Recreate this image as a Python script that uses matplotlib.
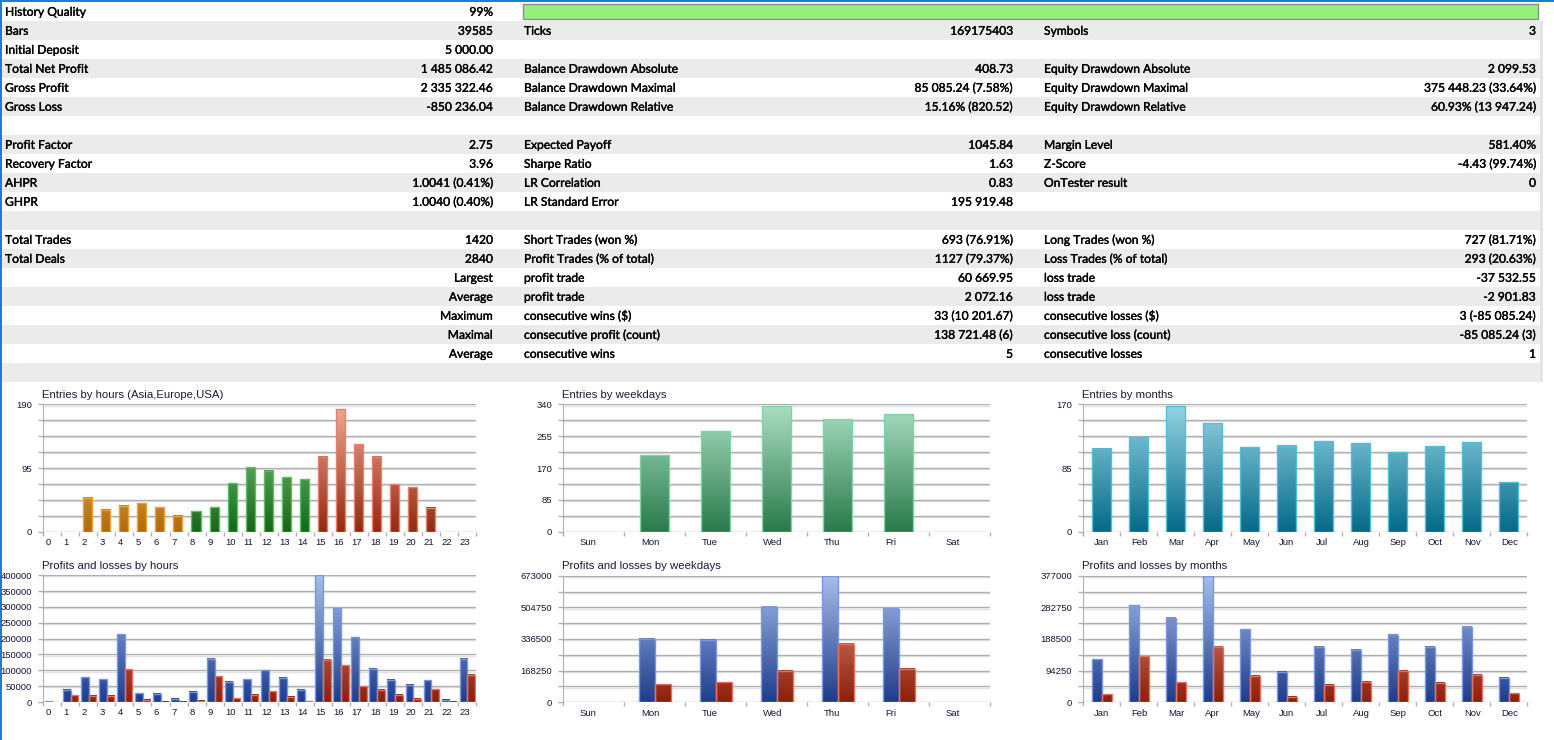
import numpy as np
import matplotlib
matplotlib.use("Agg")
import matplotlib.pyplot as plt
from matplotlib.patches import Rectangle
from matplotlib.colors import to_rgb
from matplotlib import transforms
import matplotlib.patheffects as pe

# ---------------- data ----------------
# report rows: label, value, label, value, label, value
table_rows = [
    ["History Quality", "99%", "", "", "", ""],
    ["Bars", "39585", "Ticks", "169175403", "Symbols", "3"],
    ["Initial Deposit", "5 000.00", "", "", "", ""],
    ["Total Net Profit", "1 485 086.42", "Balance Drawdown Absolute", "408.73", "Equity Drawdown Absolute", "2 099.53"],
    ["Gross Profit", "2 335 322.46", "Balance Drawdown Maximal", "85 085.24 (7.58%)", "Equity Drawdown Maximal", "375 448.23 (33.64%)"],
    ["Gross Loss", "-850 236.04", "Balance Drawdown Relative", "15.16% (820.52)", "Equity Drawdown Relative", "60.93% (13 947.24)"],
    ["", "", "", "", "", ""],
    ["Profit Factor", "2.75", "Expected Payoff", "1045.84", "Margin Level", "581.40%"],
    ["Recovery Factor", "3.96", "Sharpe Ratio", "1.63", "Z-Score", "-4.43 (99.74%)"],
    ["AHPR", "1.0041 (0.41%)", "LR Correlation", "0.83", "OnTester result", "0"],
    ["GHPR", "1.0040 (0.40%)", "LR Standard Error", "195 919.48", "", ""],
    ["", "", "", "", "", ""],
    ["Total Trades", "1420", "Short Trades (won %)", "693 (76.91%)", "Long Trades (won %)", "727 (81.71%)"],
    ["Total Deals", "2840", "Profit Trades (% of total)", "1127 (79.37%)", "Loss Trades (% of total)", "293 (20.63%)"],
    ["", "Largest", "profit trade", "60 669.95", "loss trade", "-37 532.55"],
    ["", "Average", "profit trade", "2 072.16", "loss trade", "-2 901.83"],
    ["", "Maximum", "consecutive wins ($)", "33 (10 201.67)", "consecutive losses ($)", "3 (-85 085.24)"],
    ["", "Maximal", "consecutive profit (count)", "138 721.48 (6)", "consecutive loss (count)", "-85 085.24 (3)"],
    ["", "Average", "consecutive wins", "5", "consecutive losses", "1"],
    ["", "", "", "", "", ""],
]
history_quality = 99

hours = [str(h) for h in range(24)]
entries_hours = [0, 0, 51, 33, 39, 43, 37, 24, 31, 37, 72, 96, 91, 82, 79,
                 112, 183, 131, 112, 71, 67, 36, 0, 0]
profit_hours = [3000, 38900, 78000, 72600, 213700, 27400, 25300, 9500, 31600, 136800,
                64200, 72600, 100000, 75800, 38900, 400000, 295800, 204200, 105300,
                69500, 53700, 68400, 7400, 135800]
loss_hours = [0, 21000, 20000, 20000, 104000, 7400, 1000, 1000, 4000, 82000,
              12600, 22100, 34700, 16800, 3000, 133700, 115800, 49500, 37900,
              22100, 10500, 41000, 1000, 85300]

weekdays = ["Sun", "Mon", "Tue", "Wed", "Thu", "Fri", "Sat"]
entries_weekdays = [0, 204, 269, 336, 300, 314, 0]
profit_weekdays = [0, 336500, 331200, 506500, 673000, 495900, 0]
loss_weekdays = [0, 95600, 106300, 166500, 311700, 177100, 0]

months = ["Jan", "Feb", "Mar", "Apr", "May", "Jun", "Jul", "Aug", "Sep", "Oct", "Nov", "Dec"]
entries_months = [111, 126, 168, 145, 113, 115, 121, 118, 106, 114, 120, 66]
profit_months = [128000, 288700, 251000, 377000, 217200, 90300, 165700, 156700,
                 200400, 165700, 225200, 73400]
loss_months = [23800, 136900, 59500, 164700, 79400, 14900, 52600, 60500,
               94200, 57500, 81300, 26800]

# ---------------- figure ----------------
W, H = 1554, 740
fig = plt.figure(figsize=(W / 100, H / 100), dpi=100)
fig.patch.set_facecolor("white")

tab = fig.add_axes([0, 0, 1, 1])
tab.set_xlim(0, W)
tab.set_ylim(H, 0)
tab.axis("off")

ROW_H = 19
TOP = 2
# slight stroke to mimic the darker ClearType rendering of the report font
heavier = [pe.withStroke(linewidth=0.25, foreground="black")]
txt = dict(fontsize=8.7, family=["Lato", "DejaVu Sans"], color="black", va="center",
           path_effects=heavier)
label_x = [5, 524, 1044]
value_x = [493, 1013, 1536]

for i, row in enumerate(table_rows):
    y0 = TOP + i * ROW_H
    if i % 2 == 1:
        tab.add_patch(Rectangle((2, y0), 1538, ROW_H, color="#ebebeb", lw=0))
    yc = y0 + ROW_H / 2 + 0.8
    for c in range(3):
        if row[2 * c]:
            tab.text(label_x[c], yc, row[2 * c], ha="left", **txt)
        if row[2 * c + 1]:
            tab.text(value_x[c], yc, row[2 * c + 1], ha="right", **txt)

# history quality bar
tab.add_patch(Rectangle((523, 4), 1015 * history_quality / 99, 15,
                        facecolor="#98f07c", edgecolor="#8a8a8a", lw=1))
# side strip and window border
tab.add_patch(Rectangle((1540, 21), 3, 361, color="#e4e4e4", lw=0))
tab.add_patch(Rectangle((0, 0), W, 2, color="#1a7fd4", lw=0))
tab.add_patch(Rectangle((0, 0), 1.5, H, color="#1a7fd4", lw=0))


def px_axes(x0, y0, x1, y1):
    return fig.add_axes([x0 / W, 1 - y1 / H, (x1 - x0) / W, (y1 - y0) / H])


def grad_bar(ax, x0, w, v, ymax, bottom, top, edge):
    if v <= 0:
        return
    b = np.array(to_rgb(bottom))
    t = np.array(to_rgb(top))
    ramp = np.linspace(0, v / ymax, 64)[:, None]
    img = (b + ramp * (t - b))[:, None, :]
    ax.imshow(img, extent=(x0, x0 + w, 0, v), origin="lower", aspect="auto",
              interpolation="bilinear", zorder=3)
    ax.add_patch(Rectangle((x0, 0), w, v, fill=False, edgecolor=edge, lw=1, zorder=3.1))


TICK_FONT = dict(family=["Liberation Sans", "DejaVu Sans"], size=6.8)
GRID = "#b0b0b0"


def setup(ax, title, cats, ymax, label_step, lab_off):
    n = len(cats)
    ax.set_facecolor("none")
    ax.set_xlim(0, n)
    ax.set_ylim(0, ymax)
    for s in ["top", "right", "bottom"]:
        ax.spines[s].set_visible(False)
    ax.spines["left"].set_color(GRID)
    light = transforms.offset_copy(ax.transData, fig=fig, y=-1.2, units="dots")
    for k in range(9):
        yv = ymax * k / 8
        ax.axhline(yv, color=GRID, lw=1, zorder=1)
        ax.plot([0, n], [yv, yv], color="#e2e2e2", lw=1, transform=light, zorder=0.9)
    yt = [ymax * k / 8 for k in range(9)]
    ylab = [f"{int(round(v))}" if k % label_step == 0 else "" for k, v in enumerate(yt)]
    ax.set_yticks(yt, ylab)
    ax.tick_params(axis="y", length=3.6, width=1, color=GRID, pad=4.5,
                   labelcolor="#14143a")
    ax.set_xticks(np.arange(n + 1), minor=True)
    ax.tick_params(axis="x", which="minor", length=3, width=1, color=GRID)
    ax.set_xticks(np.arange(n) + lab_off, cats)
    ax.tick_params(axis="x", which="major", length=0, pad=4.5, labelcolor="#14143a")
    for lbl in ax.get_xticklabels() + ax.get_yticklabels():
        lbl.set_fontfamily(TICK_FONT["family"])
        lbl.set_fontsize(TICK_FONT["size"])
    for lbl in ax.get_xticklabels():
        lbl.set_ha("left")
    ax.annotate(title, xy=(0, 1), xycoords="axes fraction", xytext=(-1, 6.8),
                textcoords="offset points", ha="left", va="center",
                fontsize=8.2, family=["Liberation Sans", "DejaVu Sans"], color="#1a1a3a")


BLUE = ("#1e3c8a", "#a6beec", "#7896e6")
RED = ("#8e1e0a", "#ea9c84", "#e8705a")


def pnl_bars(ax, prof, loss, ymax, b0, bw):
    for i, (p, l) in enumerate(zip(prof, loss)):
        grad_bar(ax, i + b0, bw, p, ymax, *BLUE)
        grad_bar(ax, i + b0 + bw, bw, l, ymax, *RED)


# hours
session = {"asia": ("#b06a0a", "#ffd296", "#f0a030"),
           "europe": ("#16661a", "#90d494", "#5cc05c"),
           "usa": ("#962810", "#eeaa98", "#e8806a")}
ax = px_axes(43.3, 404.3, 476, 531.7)
setup(ax, "Entries by hours (Asia,Europe,USA)", hours, 190, 4, 0.11)
for i, v in enumerate(entries_hours):
    key = "asia" if i < 8 else ("europe" if i < 15 else "usa")
    grad_bar(ax, i + 0.22, 0.5, v, 190, *session[key])

ax = px_axes(43.3, 575.3, 476, 702)
setup(ax, "Profits and losses by hours", hours, 400000, 1, 0.11)
pnl_bars(ax, profit_hours, loss_hours, 400000, 0.09, 0.42)

# weekdays
ax = px_axes(563.3, 404.3, 990.3, 531.7)
setup(ax, "Entries by weekdays", weekdays, 340, 2, 0.27)
for i, v in enumerate(entries_weekdays):
    grad_bar(ax, i + 0.25, 0.49, v, 340, "#2a7a4c", "#aadec2", "#7fd4a4")

ax = px_axes(563.3, 575.7, 990.3, 702.3)
setup(ax, "Profits and losses by weekdays", weekdays, 673000, 2, 0.27)
pnl_bars(ax, profit_weekdays, loss_weekdays, 673000, 0.24, 0.26)

# months
ax = px_axes(1083.3, 404.3, 1527.3, 531.7)
setup(ax, "Entries by months", months, 170, 4, 0.29)
for i, v in enumerate(entries_months):
    grad_bar(ax, i + 0.23, 0.52, v, 170, "#056a88", "#94d4e4", "#4cc0dc")

ax = px_axes(1083.3, 575.7, 1527.3, 702.3)
setup(ax, "Profits and losses by months", months, 377000, 2, 0.29)
pnl_bars(ax, profit_months, loss_months, 377000, 0.23, 0.27)

fig.savefig("out.png", dpi=100, facecolor="white")
